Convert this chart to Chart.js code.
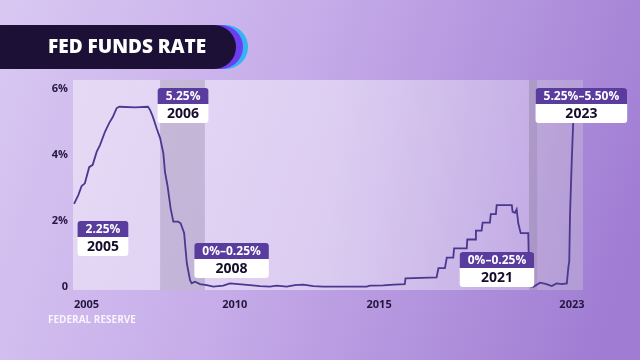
<!DOCTYPE html>
<html><head><meta charset="utf-8">
<script src="https://cdn.jsdelivr.net/npm/chart.js@4.4.1/dist/chart.umd.min.js"></script>
<style>html,body{margin:0;padding:0;background:#c9b2ec;}canvas{display:block;}</style>
</head><body>
<canvas id="c" width="640" height="360"></canvas>
<script>
// ---- data ----
const rateYears = [2004.54,2004.70,2004.82,2004.94,2005.10,2005.23,2005.38,2005.50,2005.69,2005.85,2005.97,2006.12,2006.22,2006.80,2007.28,2007.36,2007.46,2007.60,2007.73,2007.85,2007.91,2008.00,2008.12,2008.22,2008.40,2008.49,2008.62,2008.72,2008.84,2008.90,2009.02,2009.21,2009.46,2009.70,2010.07,2010.32,2010.63,2011.06,2011.43,2011.80,2012.05,2012.42,2012.73,2013.04,2013.41,2013.78,2014.15,2014.52,2014.89,2015.39,2015.51,2015.62,2016.00,2016.40,2016.80,2016.83,2017.98,2018.05,2018.29,2018.36,2018.60,2018.63,2019.10,2019.12,2019.41,2019.44,2019.65,2019.69,2019.96,2019.99,2020.18,2020.21,2020.77,2020.80,2020.89,2020.95,2021.01,2021.10,2021.38,2021.42,2021.57,2021.82,2022.06,2022.25,2022.43,2022.62,2022.81,2022.87,2022.90,2022.93,2022.99,2023.05,2023.11];
const rateValues = [2.52,2.79,3.06,3.14,3.63,3.70,4.10,4.30,4.71,4.98,5.14,5.42,5.46,5.44,5.46,5.36,5.16,4.81,4.51,4.05,3.49,3.09,2.38,1.98,1.98,1.93,1.64,0.72,0.21,0.11,0.16,0.09,0.06,0.01,0.04,0.11,0.09,0.06,0.03,0.01,0.04,0.01,0.06,0.07,0.03,0.01,0.01,0.01,0.01,0.01,0.04,0.04,0.05,0.07,0.09,0.26,0.29,0.57,0.57,0.89,0.89,1.17,1.17,1.44,1.44,1.71,1.71,1.95,1.95,2.21,2.21,2.48,2.48,2.28,2.25,2.35,1.93,1.63,1.63,0.03,0.01,0.13,0.09,0.03,0.11,0.09,0.11,0.62,0.77,2.23,3.75,5.06,5.42];

const xTickLabels = ['2005','2010','2015','2023'];
const xTickAt = [2005, 2010.5, 2015.85, 2023];
const yTickValues = [0, 2, 4, 6];
const yTickLabels = ['0', '2%', '4%', '6%'];

const bandFrom = [2007.73, 2021.41, 2021.71];
const bandTo = [2009.39, 2021.71, 2023.41];
const bandShade = ['rgba(140,125,160,0.34)', 'rgba(140,125,160,0.42)', 'rgba(140,125,160,0.16)'];

const noteTop = ['2.25%', '5.25%', '0%\u20130.25%', '0%\u20130.25%', '5.25%\u20135.50%'];
const noteYear = ['2005', '2006', '2008', '2021', '2023'];
const noteX = [2005.61, 2008.58, 2010.38, 2020.22, 2023.35];
const noteY = [2.0, 6.03, 1.33, 1.06, 6.03];

const titleText = 'FED FUNDS RATE';
const sourceText = 'FEDERAL RESERVE';

const FONT = "'Open Sans', 'DejaVu Sans', sans-serif";

function rr(ctx, x, y, w, h, r) {
  ctx.beginPath();
  ctx.moveTo(x + r[0], y);
  ctx.lineTo(x + w - r[1], y);
  ctx.arcTo(x + w, y, x + w, y + r[1], r[1]);
  ctx.lineTo(x + w, y + h - r[2]);
  ctx.arcTo(x + w, y + h, x + w - r[2], y + h, r[2]);
  ctx.lineTo(x + r[3], y + h);
  ctx.arcTo(x, y + h, x, y + h - r[3], r[3]);
  ctx.lineTo(x, y + r[0]);
  ctx.arcTo(x, y, x + r[0], y, r[0]);
  ctx.closePath();
}

function pill(ctx, right, top, h) {
  const r = h / 2;
  ctx.beginPath();
  ctx.moveTo(0, top);
  ctx.lineTo(right - r, top);
  ctx.arc(right - r, top + r, r, -Math.PI / 2, Math.PI / 2);
  ctx.lineTo(0, top + h);
  ctx.closePath();
}

const deco = {
  id: 'deco',
  beforeDraw(chart) {
    const ctx = chart.ctx, W = chart.width, H = chart.height;
    const a = chart.chartArea, xs = chart.scales.x;
    ctx.save();
    const g = ctx.createLinearGradient(0, 0, W, H * 0.6);
    g.addColorStop(0, '#d9c8f2');
    g.addColorStop(0.45, '#c6ace9');
    g.addColorStop(1, '#a07dd3');
    ctx.fillStyle = g;
    ctx.fillRect(0, 0, W, H);
    const pg = ctx.createLinearGradient(a.left, 0, a.right, 0);
    pg.addColorStop(0, 'rgba(255,255,255,0.42)');
    pg.addColorStop(0.5, 'rgba(255,255,255,0.45)');
    pg.addColorStop(1, 'rgba(255,255,255,0.25)');
    ctx.fillStyle = pg;
    ctx.fillRect(a.left, a.top, a.right - a.left, a.bottom - a.top);
    for (let i = 0; i < bandFrom.length; i++) {
      const x0 = xs.getPixelForValue(bandFrom[i]);
      const x1 = xs.getPixelForValue(bandTo[i]);
      ctx.fillStyle = bandShade[i];
      ctx.fillRect(x0, a.top, x1 - x0, a.bottom - a.top);
    }
    ctx.restore();
  },
  afterDatasetsDraw(chart) {
    const ctx = chart.ctx, xs = chart.scales.x, ys = chart.scales.y;
    ctx.save();
    for (let i = 0; i < noteTop.length; i++) {
      ctx.font = 'bold 12px ' + FONT;
      const w1 = ctx.measureText(noteTop[i]).width;
      ctx.font = 'bold 14px ' + FONT;
      const w2 = ctx.measureText(noteYear[i]).width;
      const w = Math.max(w1, w2) + 16;
      const cx = xs.getPixelForValue(noteX[i]);
      const top = ys.getPixelForValue(noteY[i]);
      const x = cx - w / 2, th = 16, bh = 19;
      ctx.fillStyle = '#ffffff';
      rr(ctx, x, top, w, th + bh, [3, 3, 3, 3]);
      ctx.fill();
      ctx.fillStyle = '#5a3b9e';
      rr(ctx, x, top, w, th, [3, 3, 0, 0]);
      ctx.fill();
      ctx.textAlign = 'center';
      ctx.textBaseline = 'middle';
      ctx.fillStyle = '#ffffff';
      ctx.font = 'bold 12px ' + FONT;
      ctx.fillText(noteTop[i], cx, top + th / 2 + 0.5);
      ctx.fillStyle = '#160d2c';
      ctx.font = 'bold 14px ' + FONT;
      ctx.fillText(noteYear[i], cx, top + th + bh / 2 + 0.5);
    }
    ctx.restore();
  },
  afterDraw(chart) {
    const ctx = chart.ctx;
    ctx.save();
    ctx.fillStyle = '#35b3f2';
    pill(ctx, 248, 25, 44); ctx.fill();
    ctx.fillStyle = '#6d3df0';
    pill(ctx, 243, 25, 44); ctx.fill();
    ctx.fillStyle = '#1c1036';
    pill(ctx, 236, 25, 44); ctx.fill();
    ctx.fillStyle = '#ffffff';
    ctx.font = '800 19px ' + FONT;
    ctx.textAlign = 'left';
    ctx.textBaseline = 'middle';
    ctx.fillText(titleText, 48, 48);
    ctx.fillStyle = 'rgba(255,255,255,0.85)';
    ctx.font = 'bold 10px ' + FONT;
    ctx.fillText(sourceText, 48, 320);
    ctx.restore();
  }
};

new Chart(document.getElementById('c'), {
  type: 'line',
  data: {
    datasets: [{
      data: rateYears.map((x, i) => ({ x: x, y: rateValues[i] })),
      borderColor: '#4a3790',
      borderWidth: 1.8,
      pointRadius: 0,
      tension: 0,
      fill: false
    }]
  },
  options: {
    responsive: false,
    animation: false,
    layout: { padding: { left: 0, right: 57, top: 80, bottom: 0 } },
    plugins: { legend: { display: false }, tooltip: { enabled: false } },
    scales: {
      x: {
        type: 'linear',
        min: 2004.5,
        max: 2023.41,
        grid: { display: false, drawTicks: false },
        border: { display: false },
        afterBuildTicks(s) { s.ticks = xTickAt.map(v => ({ value: v })); },
        afterFit(s) { s.height = 70; },
        ticks: {
          autoSkip: false, maxRotation: 0, padding: 8,
          color: '#24163f',
          font: { family: FONT, size: 11, weight: 'bold' },
          callback: (v, i) => xTickLabels[i]
        }
      },
      y: {
        min: -0.09,
        max: 6.27,
        grid: { display: false, drawTicks: false },
        border: { display: false },
        afterBuildTicks(s) { s.ticks = yTickValues.map(v => ({ value: v })); },
        afterFit(s) { s.width = 73; },
        ticks: {
          padding: 5,
          color: '#24163f',
          font: { family: FONT, size: 11, weight: 'bold' },
          callback: (v, i) => yTickLabels[i]
        }
      }
    }
  },
  plugins: [deco]
});
</script>
</body></html>
